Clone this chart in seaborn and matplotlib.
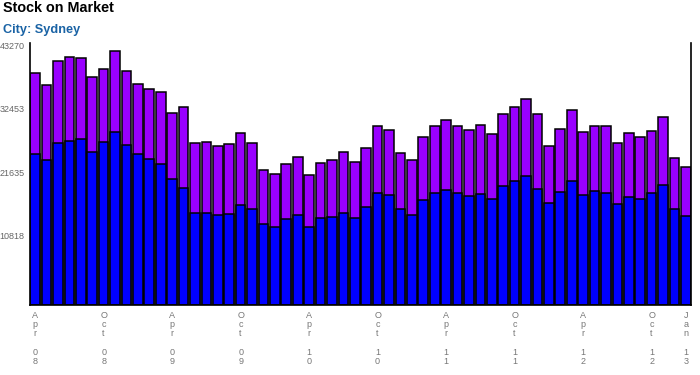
import pandas as pd
import matplotlib
matplotlib.use('Agg')
import matplotlib.pyplot as plt
import seaborn as sns

# monthly stock on market, Apr 08 .. Jan 13
months = pd.date_range('2008-04-01', '2013-01-01', freq='MS').strftime('%b %y').tolist()

total_stock = [39470, 37426, 41565, 42196, 42150, 38789, 40152, 43270, 39811, 37596,
               36796, 36233, 32656, 33678, 27546, 27767, 27035, 27375, 29249, 27546,
               22946, 22265, 24019, 25161, 22146, 24139, 24650, 26012, 24309, 26694,
               30442, 29760, 25893, 24650, 28619, 30493, 31464, 30493, 29760, 30612,
               29079, 32486, 33678, 35092, 32486, 27035, 29930, 33167, 29471, 30493,
               30442, 27546, 29249, 28568, 29641, 31975, 24990, 23457]

lower_stock = [25672, 24650, 27546, 27886, 28227, 26012, 27716, 29420, 27205, 25672,
               24871, 24019, 21413, 19880, 15672, 15621, 15280, 15451, 16984, 16302,
               13747, 13236, 14599, 15280, 13236, 14820, 14940, 15672, 14820, 16694,
               19028, 18687, 16302, 15280, 17836, 19028, 19539, 19028, 18517, 18858,
               18006, 20272, 21072, 21924, 19710, 17325, 19198, 21072, 18687, 19369,
               19028, 17154, 18347, 18006, 19028, 20391, 16302, 15110]

y_ticks = [10818, 21635, 32453, 43270]

df = pd.DataFrame({'month': months, 'total': total_stock, 'lower': lower_stock})

sns.set_style('white')
plt.rcParams['font.family'] = ['Liberation Sans', 'DejaVu Sans']

fig = plt.figure(figsize=(7, 3.75), dpi=100)
ax = fig.add_axes([30 / 700, 70 / 375, 661 / 700, 262 / 375])

sns.barplot(data=df, x='month', y='total', color='#9900ff', saturation=1,
            width=0.85, edgecolor='black', linewidth=1.1, ax=ax)
sns.barplot(data=df, x='month', y='lower', color='#0000ff', saturation=1,
            width=0.85, edgecolor='black', linewidth=1.1, ax=ax)

ax.set_xlim(-0.45, len(months) - 0.55)
ax.set_ylim(0, 44630)
ax.set_yticks(y_ticks)
ax.set_yticklabels([str(v) for v in y_ticks], fontsize=6.5, color='#666666', va='bottom')

idx = list(range(0, len(months), 6)) + [len(months) - 1]
ax.set_xticks(idx)
ax.set_xticklabels(['\n'.join(months[i]) for i in idx], fontsize=6.5, color='#777777',
                   linespacing=1.05)
ax.tick_params(axis='both', length=0, pad=4)
ax.set_xlabel('')
ax.set_ylabel('')

for s in ['left', 'bottom', 'right']:
    ax.spines[s].set_color('black')
    ax.spines[s].set_linewidth(1.2)
ax.spines['top'].set_visible(False)

fig.text(3 / 700, 1 - 7.5 / 375, 'Stock on Market', fontsize=10.4, fontweight='bold',
         color='black', va='center', ha='left')
fig.text(3 / 700, 1 - 29.5 / 375, 'City: Sydney', fontsize=9.2, fontweight='bold',
         color='#1a63a5', va='center', ha='left')

fig.savefig('out.png', dpi=100)
